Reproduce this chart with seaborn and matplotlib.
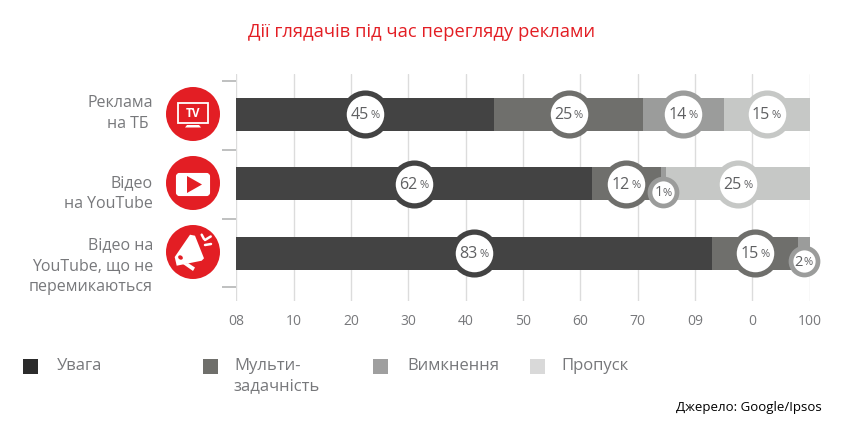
import matplotlib
matplotlib.use("Agg")
import matplotlib.pyplot as plt
from matplotlib.patches import Circle, Rectangle, FancyBboxPatch, Polygon, Ellipse
import numpy as np
import pandas as pd
import seaborn as sns

title = "Дії глядачів під час перегляду реклами"
categories = ["Реклама\nна ТБ ", "Відео\nна YouTube", "Відео на\nYouTube, що не\nперемикаються"]
series_names = ["Увага", "Мульти-\nзадачність", "Вимкнення", "Пропуск"]
attention = [45, 62, 83]
multitask = [26, 12, 15]
turned_off = [14, 1, 2]
skipped = [15, 25, 0]
label_attention = [45, 62, 83]
label_multitask = [25, 12, 15]
label_off = [14, 1, 2]
label_skipped = [15, 25, None]
tick_values = [0, 10, 20, 30, 40, 50, 60, 70, 80, 90, 100]
tick_labels = ["08", "10", "20", "30", "40", "50", "60", "70", "09", "0", "100"]
source = "Джерело: Google/Ipsos"

BAR_COLORS = ["#434343", "#6f6f6c", "#9b9c9b", "#c6c8c6"]
LEG_COLORS = ["#2b2b2b", "#6f6f6b", "#9f9f9f", "#d9d9d9"]
TXT = "#77787b"
RED = "#e31e24"
W, H = 845, 435

sns.set_theme(style="white")
plt.rcParams["font.family"] = ["Open Sans", "DejaVu Sans"]
fig = plt.figure(figsize=(W / 100, H / 100), dpi=100, facecolor="white")

# main axes, placed by pixel box
L, R, T, B = 236.5, 809.5, 75, 302
ax = fig.add_axes([L / W, 1 - B / H, (R - L) / W, (B - T) / H])
y0, unit = 115.3, 69.5
ax.set_ylim((B - y0) / unit, (T - y0) / unit)

vals = np.array([attention, multitask, turned_off, skipped], dtype=float)
cum = vals.cumsum(axis=0)
rows = np.arange(3)
for i in range(3, -1, -1):
    df = pd.DataFrame({"v": cum[i], "c": rows})
    sns.barplot(data=df, x="v", y="c", orient="h", order=None, native_scale=True,
                color=BAR_COLORS[i], saturation=1, width=0.48, ax=ax, linewidth=0, zorder=3)
ax.set_xlim(0, 100)
ax.set_ylim((B - y0) / unit, (T - y0) / unit)
ax.set_xlabel(""); ax.set_ylabel("")
ax.set_xticks(tick_values, tick_labels)
ax.set_yticks([-0.48, 0.51, 1.5, 2.49], ["", "", "", ""])
ax.tick_params(axis="y", length=10, width=1.2, color="#b4b5b5", left=True, pad=0)
ax.tick_params(axis="x", length=0, pad=8.5, labelsize=10, labelcolor=TXT)
ax.grid(axis="x", color="#dcdcdc", lw=1, zorder=0)
ax.set_axisbelow(True)
for s in ax.spines.values():
    s.set_visible(False)

# value bubbles, centred on each segment
labels = [label_attention, label_multitask, label_off, label_skipped]
starts = np.vstack([np.zeros(3), cum[:-1]])
recs = []
for i in range(4):
    for r in rows:
        if labels[i][r] is None:
            continue
        small = labels[i][r] <= 2
        recs.append(dict(x=starts[i, r] + vals[i, r] / 2, y=r + (0.115 if small else 0),
                         i=i, small=small, lab=labels[i][r]))
bub = pd.DataFrame(recs)
for i in range(4):
    for small, size, lw in [(False, 950, 3.8), (True, 378, 3.4)]:
        d = bub[(bub.i == i) & (bub.small == small)]
        if len(d):
            sns.scatterplot(data=d, x="x", y="y", s=size, color="white", edgecolor=BAR_COLORS[i],
                            linewidth=lw, ax=ax, zorder=5, clip_on=False, legend=False)
ax.set_xlabel(""); ax.set_ylabel("")
for _, b in bub.iterrows():
    fs = 10.5 if b.small else 11.5
    ax.annotate(f"{int(b.lab)}", (b.x, b.y), xytext=(-3.6 if b.small else -4, 0), textcoords="offset points",
                ha="center", va="center", fontsize=fs, color="#5f6062", zorder=6)
    ax.annotate("%", (b.x, b.y), xytext=(3 if b.small else 7, -0.5), textcoords="offset points",
                ha="center", va="center", fontsize=8, color="#5f6062", zorder=6)

# pixel overlay for text, legend and icons
ov = fig.add_axes([0, 0, 1, 1], zorder=10)
ov.set_xlim(0, W); ov.set_ylim(H, 0); ov.axis("off"); ov.patch.set_alpha(0)

ov.text(422, 32, title, color=RED, fontsize=13.2, ha="center", va="center")
for cat, yc in zip(categories, [113.5, 193.5, 266]):
    ov.text(153, yc, cat, color=TXT, fontsize=11.5, ha="right", va="center", linespacing=1.38)

# icons
for yc in [115, 184, 253]:
    ov.add_patch(Circle((193, yc), 27, color=RED, lw=0))
# TV
ov.add_patch(Rectangle((178.5, 104), 30, 19.5, fc="none", ec="white", lw=1.3))
ov.text(193.5, 113.5, "TV", color="white", fontsize=8.5, fontweight="bold", ha="center", va="center")
ov.add_patch(Polygon([[187, 126], [199, 126], [201, 128.5], [185, 128.5]], color="white", lw=0))
# YouTube
ov.add_patch(FancyBboxPatch((176.5, 174.5), 33, 22, boxstyle="round,pad=0,rounding_size=3", fc="white", ec="white", lw=0.8))
ov.add_patch(Polygon([[187, 177], [202, 185.5], [187, 194]], color=RED, lw=0))
# Megaphone
ov.add_patch(Polygon([[174.7, 258], [190, 235.7], [195, 236.7], [204, 259.3], [201.7, 261.7], [176.7, 266.7]], color="white", lw=0))
ov.add_patch(Polygon([[183, 265], [188, 264], [195, 268.5], [193, 272]], color="white", lw=0))
ov.add_patch(Ellipse((180.5, 258.5), 5, 4, angle=35, color=RED, lw=0))
for seg in [((201.7, 235.7), (204, 240)), ((205, 241), (210.7, 237.5)), ((205, 246), (211, 245))]:
    ov.plot(*zip(*seg), color="white", lw=1.8, solid_capstyle="round")

# legend
leg_sq = [23, 203, 373, 530]
leg_tx = [57, 234, 407, 561]
for name, c, sx, tx in zip(series_names, LEG_COLORS, leg_sq, leg_tx):
    ov.add_patch(Rectangle((sx, 360), 15, 15, color=c, lw=0))
    ov.text(tx, 358, name, color=TXT, fontsize=12, ha="left", va="top", linespacing=1.35)
ov.text(822, 408, source, color="black", fontsize=9.5, ha="right", va="center")

fig.savefig("out.png", dpi=100)
